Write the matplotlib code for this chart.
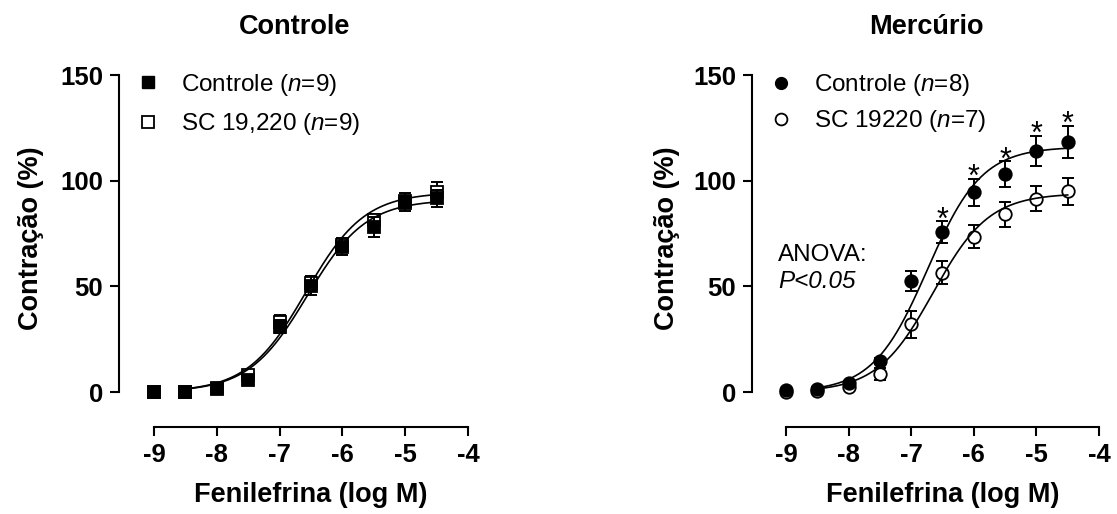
import numpy as np
import matplotlib
matplotlib.use('Agg')
import matplotlib.pyplot as plt
from matplotlib.lines import Line2D

plt.rcParams['font.family'] = ['Liberation Sans', 'DejaVu Sans']
plt.rcParams['mathtext.fontset'] = 'custom'
plt.rcParams['mathtext.rm'] = 'Liberation Sans'
plt.rcParams['mathtext.it'] = 'Liberation Sans:italic'
plt.rcParams['axes.unicode_minus'] = False

log_dose = [-9, -8.5, -8, -7.5, -7, -6.5, -6, -5.5, -5, -4.5]

# painel Controle
ctl_ctrl_mean = [0, 0, 1.5, 5.7, 30.9, 50.2, 68.8, 78.2, 89.3, 91.6]
ctl_ctrl_sem = [0.5, 0.5, 0.8, 1.5, 3, 4.5, 4, 4.7, 3.5, 4]
ctl_sc_mean = [0, 0, 2, 8, 33.3, 51.5, 69.6, 81.4, 90.5, 94.8]
ctl_sc_sem = [0.5, 0.5, 0.8, 1.5, 3, 3.5, 3, 3, 3.5, 4.5]

# painel Mercurio
hg_ctrl_mean = [1, 1.5, 4.1, 14.8, 52.5, 75.6, 94.5, 103, 114, 118.5]
hg_ctrl_sem = [0.5, 0.8, 1, 1.5, 4.6, 5.2, 6.5, 6.1, 7.2, 7.6]
hg_sc_mean = [0, 0.3, 2.3, 8.5, 32, 56.5, 73.5, 84, 91.5, 95]
hg_sc_sem = [0.5, 0.5, 1, 2.8, 6.3, 5.5, 5.5, 5.9, 6, 6.3]
hg_star_dose = [-6.5, -6, -5.5, -5, -4.5]

# ajuste sigmoide: [top, logEC50, hill]
ctl_ctrl_fit = [91, -6.56, 0.93]
ctl_sc_fit = [94.5, -6.58, 0.93]
hg_ctrl_fit = [116, -6.74, 1.0]
hg_sc_fit = [94, -6.65, 0.97]


def hill(x, top, ec50, h):
    return top / (1 + 10 ** ((ec50 - x) * h))


def style_axes(ax, xlim):
    ax.set_xlim(xlim)
    ax.set_ylim(-16.56, 157.1)
    for s in ['top', 'right']:
        ax.spines[s].set_visible(False)
    ax.spines['left'].set_bounds(0, 150)
    ax.spines['bottom'].set_bounds(-9, -4)
    for s in ['left', 'bottom']:
        ax.spines[s].set_linewidth(1.5)
    ax.set_xticks([-9, -8, -7, -6, -5, -4])
    ax.set_yticks([0, 50, 100, 150])
    ax.tick_params(direction='out', length=6.5, width=1.5, labelsize=18.5, pad=5)
    for lab in ax.get_xticklabels() + ax.get_yticklabels():
        lab.set_fontweight('bold')


def draw_series(ax, mean, sem, fit, marker, fill, z):
    ax.errorbar(log_dose, mean, yerr=sem, fmt='none', ecolor='black',
                elinewidth=1.4, capsize=4.3, capthick=1.4, zorder=z)
    ax.plot(log_dose, mean, linestyle='none', marker=marker, markersize=9,
            markerfacecolor=fill, markeredgecolor='black', markeredgewidth=1.3,
            zorder=z + 0.5, clip_on=False)
    xs = np.linspace(-8.5, -4.5, 200)
    ax.plot(xs, hill(xs, *fit), color='black', lw=1.2, zorder=10)


fig = plt.figure(figsize=(11.17, 5.14), dpi=100)
ax1 = fig.add_axes([119 / 1117, 1 - 427 / 514, 351 / 1117, 367 / 514])
ax2 = fig.add_axes([752 / 1117, 1 - 427 / 514, 349 / 1117, 367 / 514])

# Controle
style_axes(ax1, (-9.557, -3.968))
draw_series(ax1, ctl_sc_mean, ctl_sc_sem, ctl_sc_fit, 's', 'white', 3)
draw_series(ax1, ctl_ctrl_mean, ctl_ctrl_sem, ctl_ctrl_fit, 's', 'black', 5)
h1 = [Line2D([], [], ls='none', marker='s', markersize=8.5, mfc='black', mec='black'),
      Line2D([], [], ls='none', marker='s', markersize=8.5, mfc='white', mec='black', mew=1.3)]
ax1.legend(h1, ['Controle ($\\mathit{n}$=9)', 'SC 19,220 ($\\mathit{n}$=9)'],
           loc='upper left', bbox_to_anchor=(136 / 1117, 1 - 72 / 514),
           bbox_transform=fig.transFigure, frameon=False, fontsize=17.5,
           handlelength=0.95, handletextpad=0.9, labelspacing=0.55,
           borderpad=0, borderaxespad=0)
ax1.set_title('Controle', fontsize=19.5, fontweight='bold', pad=19)

# Mercurio
style_axes(ax2, (-9.543, -3.968))
draw_series(ax2, hg_sc_mean, hg_sc_sem, hg_sc_fit, 'o', 'white', 3)
draw_series(ax2, hg_ctrl_mean, hg_ctrl_sem, hg_ctrl_fit, 'o', 'black', 5)
for xd in hg_star_dose:
    i = log_dose.index(xd)
    ax2.text(xd, hg_ctrl_mean[i] + hg_ctrl_sem[i] - 3.5, '*', ha='center',
             va='baseline', fontsize=22)
h2 = [Line2D([], [], ls='none', marker='o', markersize=8.5, mfc='black', mec='black'),
      Line2D([], [], ls='none', marker='o', markersize=8.5, mfc='white', mec='black', mew=1.3)]
ax2.legend(h2, ['Controle ($\\mathit{n}$=8)', 'SC 19220 ($\\mathit{n}$=7)'],
           loc='upper left', bbox_to_anchor=(769 / 1117, 1 - 72.5 / 514),
           bbox_transform=fig.transFigure, frameon=False, fontsize=17.5,
           handlelength=0.95, handletextpad=0.9, labelspacing=0.4,
           borderpad=0, borderaxespad=0)
ax2.set_title('Mercúrio', fontsize=19.5, fontweight='bold', pad=19)
ax2.text(-9.13, 64.9, 'ANOVA:', fontsize=17.5, va='center', ha='left')
ax2.text(-9.13, 52.1, 'P<0.05', fontsize=17.5, va='center', ha='left', style='italic')

for ax, ylx, xlx in [(ax1, -0.214, 0.547), (ax2, -0.206, 0.546)]:
    ax.set_ylabel('Contração (%)', fontsize=19.5, fontweight='bold')
    ax.set_xlabel('Fenilefrina (log M)', fontsize=19.5, fontweight='bold')
    ax.yaxis.set_label_coords(ylx, 0.515)
    ax.xaxis.set_label_coords(xlx, -0.150)

fig.savefig('out.png', dpi=100)
